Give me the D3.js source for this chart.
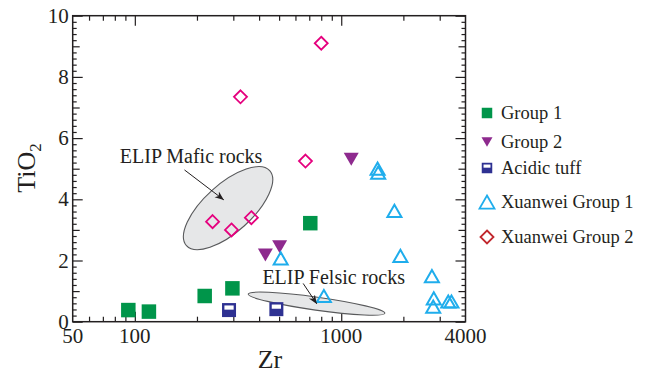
<!DOCTYPE html>
<html>
<head>
<meta charset="utf-8">
<script src="https://cdn.jsdelivr.net/npm/d3@7"></script>
<style>
  body { margin: 0; background: #fff; }
  text { font-family: "Liberation Serif", "Times New Roman", serif; fill: #231f20; }
</style>
</head>
<body>
<svg id="chart" width="645" height="375"></svg>
<script>
var svg = d3.select("#chart")
var plotLeft = 72.7, plotRight = 465.5, plotTop = 15.7, plotBottom = 321.7

// Data (Zr ppm, TiO2 wt%)
var group1Zr = [93, 117, 218, 297, 708]
var group1Ti = [0.38, 0.33, 0.84, 1.09, 3.22]
var group2Zr = [429, 503, 1118]
var group2Ti = [2.18, 2.45, 5.31]
var tuffZr = [286, 485]
var tuffTi = [0.38, 0.41]
var xw1Zr = [509, 824, 1500, 1510, 1810, 1935, 2750, 2808, 2790, 3300, 3420]
var xw1Ti = [2.07, 0.84, 5.0, 4.87, 3.62, 2.15, 1.49, 0.76, 0.49, 0.66, 0.66]
var xw2Zr = [800, 325, 671, 238, 294, 367]
var xw2Ti = [9.1, 7.35, 5.25, 3.27, 3.0, 3.40]

var xMajor = [100, 1000]
var xMinor = [60, 70, 80, 90, 200, 300, 400, 500, 600, 700, 800, 900, 2000, 3000]
var xLabels = [50, 100, 1000, 4000]
var yLabels = [0, 2, 4, 6, 8, 10]
var yMid = [1, 3, 5, 7, 9]
var yMinor = d3.range(0, 10.01, 0.2).map(v => +v.toFixed(1)).filter(v => v % 1 !== 0)

var legendNames = ["Group 1", "Group 2", "Acidic tuff", "Xuanwei Group 1", "Xuanwei Group 2"]

// fields, positions in [Zr, TiO2]
var maficField = {zr: 283, ti: 3.71, label: "ELIP Mafic rocks", labelAt: [84.6, 5.19], arrowFrom: [174, 4.96], arrowTo: [270, 3.98]}
var felsicField = {zr: 759, ti: 0.59, label: "ELIP Felsic rocks", labelAt: [415, 1.23], arrowFrom: [654, 1.25], arrowTo: [762, 0.58]}

var x = d3.scaleLog().domain([50, 4000]).range([plotLeft, plotRight])
var y = d3.scaleLinear().domain([0, 10]).range([plotBottom, plotTop])

var colGreen = "#00954a", colPurple = "#8e2a8e", colNavy = "#2e3192",
    colCyan = "#1fadec", colMagenta = "#e5007e", colRed = "#c1272d"

function zip(a, b) { return a.map((v, i) => [v, b[i]]) }

// axes with inward ticks
function tickAxis(axisFn, scale, values, size, transform) {
  svg.append("g").attr("transform", transform)
    .call(axisFn(scale).tickValues(values).tickSize(size).tickFormat(""))
    .call(g => g.select(".domain").remove())
    .selectAll("line").attr("stroke", "#231f20").attr("stroke-width", 1.2)
}
tickAxis(d3.axisBottom, x, xMinor, -5, `translate(0,${plotBottom})`)
tickAxis(d3.axisBottom, x, xMajor, -10, `translate(0,${plotBottom})`)
tickAxis(d3.axisTop, x, xMinor, -5, `translate(0,${plotTop})`)
tickAxis(d3.axisTop, x, xMajor, -10, `translate(0,${plotTop})`)
tickAxis(d3.axisLeft, y, yMinor, -4, `translate(${plotLeft},0)`)
tickAxis(d3.axisLeft, y, yMid, -7, `translate(${plotLeft},0)`)
tickAxis(d3.axisLeft, y, yLabels, -10, `translate(${plotLeft},0)`)
tickAxis(d3.axisRight, y, yMinor, -4, `translate(${plotRight},0)`)
tickAxis(d3.axisRight, y, yMid, -7, `translate(${plotRight},0)`)
tickAxis(d3.axisRight, y, yLabels, -10, `translate(${plotRight},0)`)

svg.append("rect").attr("x", plotLeft).attr("y", plotTop)
  .attr("width", plotRight - plotLeft).attr("height", plotBottom - plotTop)
  .attr("fill", "none").attr("stroke", "#231f20").attr("stroke-width", 1.5)

svg.append("g").selectAll("text").data(xLabels).enter().append("text")
  .attr("x", d => x(d)).attr("y", plotBottom + 21)
  .attr("text-anchor", "middle").attr("font-size", 21).text(d => d)
svg.append("g").selectAll("text").data(yLabels).enter().append("text")
  .attr("x", plotLeft - 4).attr("y", d => y(d) + 7)
  .attr("text-anchor", "end").attr("font-size", 21).text(d => d)

svg.append("text").attr("x", 270).attr("y", 368).attr("text-anchor", "middle")
  .attr("font-size", 26).text("Zr")
var yt = svg.append("text").attr("transform", "translate(35,168) rotate(-90)")
  .attr("text-anchor", "middle").attr("font-size", 26)
yt.append("tspan").text("TiO")
yt.append("tspan").attr("font-size", 17).attr("dy", 6).text("2")

// fields
svg.append("defs").append("marker").attr("id", "arr")
  .attr("viewBox", "0 0 10 10").attr("refX", 10).attr("refY", 5)
  .attr("markerWidth", 9).attr("markerHeight", 9).attr("orient", "auto")
  .append("path").attr("d", "M0,1 L10,5 L0,9 L3,5 Z").attr("fill", "#231f20")

function field(f, rx, ry, ang) {
  svg.append("ellipse")
    .attr("transform", `translate(${x(f.zr)},${y(f.ti)}) rotate(${ang})`)
    .attr("rx", rx).attr("ry", ry)
    .attr("fill", "#e6e7e8").attr("stroke", "#58595b").attr("stroke-width", 1.1)
}
field(maficField, 56, 24, -42)
field(felsicField, 69, 6.5, 8)

function fieldLabel(f) {
  svg.append("text").attr("x", x(f.labelAt[0])).attr("y", y(f.labelAt[1]))
    .attr("font-size", 20).text(f.label)
  svg.append("line")
    .attr("x1", x(f.arrowFrom[0])).attr("y1", y(f.arrowFrom[1]))
    .attr("x2", x(f.arrowTo[0])).attr("y2", y(f.arrowTo[1]))
    .attr("stroke", "#231f20").attr("stroke-width", 1).attr("marker-end", "url(#arr)")
}

// markers
function square(s) { return `M${-s/2},${-s/2}h${s}v${s}h${-s}Z` }
function triUp(w) { var h = w * 0.87; return `M0,${-h/2}L${w/2},${h/2}L${-w/2},${h/2}Z` }
function triDown(w) { var h = w * 0.87; return `M0,${h/2}L${w/2},${-h/2}L${-w/2},${-h/2}Z` }
function diamond(d) { return `M0,${-d/2}L${d/2},0L0,${d/2}L${-d/2},0Z` }

function tuff(g, s) {
  g.append("rect").attr("x", -s/2).attr("y", -s/2).attr("width", s).attr("height", s).attr("fill", colNavy)
  g.append("rect").attr("x", -s/2 + s*0.17).attr("y", -s/2 + s*0.17)
    .attr("width", s*0.66).attr("height", s*0.3).attr("fill", "#fff")
}

var plot = svg.append("g")
plot.selectAll(".xw2").data(zip(xw2Zr, xw2Ti)).enter().append("path")
  .attr("transform", d => `translate(${x(d[0])},${y(d[1])})`)
  .attr("d", diamond(13)).attr("fill", "none").attr("stroke", colMagenta).attr("stroke-width", 1.8)
plot.selectAll(".g1").data(zip(group1Zr, group1Ti)).enter().append("path")
  .attr("transform", d => `translate(${x(d[0])},${y(d[1])})`)
  .attr("d", square(14.5)).attr("fill", colGreen)
plot.selectAll(".g2").data(zip(group2Zr, group2Ti)).enter().append("path")
  .attr("transform", d => `translate(${x(d[0])},${y(d[1])})`)
  .attr("d", triDown(15)).attr("fill", colPurple)
plot.selectAll(".tuff").data(zip(tuffZr, tuffTi)).enter().append("g")
  .attr("transform", d => `translate(${x(d[0])},${y(d[1])})`)
  .each(function() { tuff(d3.select(this), 14) })
plot.selectAll(".xw1").data(zip(xw1Zr, xw1Ti)).enter().append("path")
  .attr("transform", d => `translate(${x(d[0])},${y(d[1])})`)
  .attr("d", triUp(14)).attr("fill", "none").attr("stroke", colCyan).attr("stroke-width", 2)

fieldLabel(maficField)
fieldLabel(felsicField)

// legend
var legendY = [113, 142, 168, 202, 237]
var lg = svg.append("g")
legendNames.forEach(function(name, i) {
  var g = lg.append("g").attr("transform", `translate(487,${legendY[i]})`)
  if (i === 0) g.append("path").attr("d", square(10.5)).attr("fill", colGreen)
  if (i === 1) g.append("path").attr("d", triDown(11)).attr("fill", colPurple)
  if (i === 2) tuff(g, 10.5)
  if (i === 3) g.append("path").attr("d", triUp(15)).attr("fill", "none").attr("stroke", colCyan).attr("stroke-width", 1.8)
  if (i === 4) g.append("path").attr("d", diamond(13)).attr("fill", "none").attr("stroke", colRed).attr("stroke-width", 1.8)
  g.append("text").attr("x", 14).attr("y", 6).attr("font-size", 18.5).text(name)
})
</script>
</body>
</html>
